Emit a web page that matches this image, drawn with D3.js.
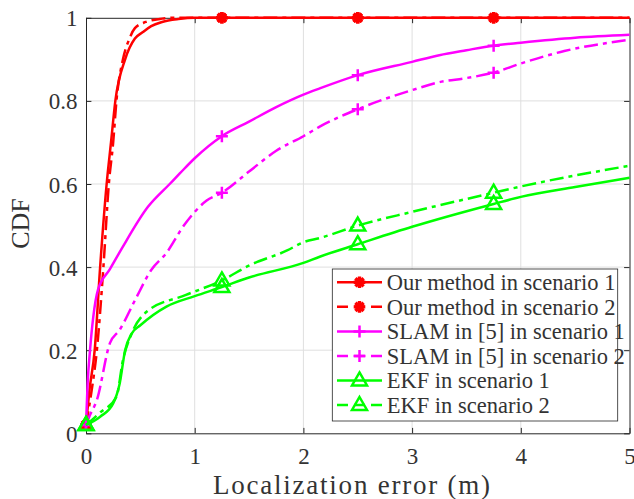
<!DOCTYPE html>
<html>
<head>
<meta charset="utf-8">
<script src="https://cdn.jsdelivr.net/npm/d3@7"></script>
<style>
  body { margin: 0; background: #fff; }
  svg text { font-family: "Liberation Serif" !important; }
</style>
</head>
<body>
<script>
// data
const xTicks = [0, 1, 2, 3, 4, 5];
const yTicks = [0, 0.2, 0.4, 0.6, 0.8, 1];
const markerX = [0, 1.25, 2.5, 3.75];

const ours1X = [0, 0.03, 0.08, 0.13, 0.19, 0.23, 0.27, 0.36, 0.45, 0.52, 0.6, 0.7, 0.85, 1, 1.25, 2.5, 3.75, 5];
const ours1Y = [0.02, 0.1, 0.2, 0.4, 0.6, 0.7, 0.8, 0.9, 0.95, 0.965, 0.98, 0.99, 0.997, 1, 1, 1, 1, 1];
const ours2X = [0, 0.05, 0.1, 0.16, 0.21, 0.25, 0.28, 0.34, 0.4, 0.45, 0.55, 0.7, 0.8, 1.25, 2.5, 3.75, 5];
const ours2Y = [0.02, 0.1, 0.2, 0.4, 0.6, 0.7, 0.8, 0.9, 0.95, 0.975, 0.99, 0.998, 1, 1, 1, 1, 1];

const slam1X = [0, 0.015, 0.037, 0.067, 0.11, 0.22, 0.33, 0.57, 0.77, 0.865, 1, 1.25, 1.5, 1.75, 2, 2.15, 2.5, 3, 3.25, 3.5, 3.75, 4, 4.5, 5];
const slam1Y = [0.02, 0.12, 0.2, 0.28, 0.345, 0.395, 0.445, 0.545, 0.6, 0.626, 0.662, 0.715, 0.75, 0.785, 0.815, 0.83, 0.862, 0.894, 0.91, 0.922, 0.933, 0.94, 0.952, 0.959];
const slam2X = [0, 0.03, 0.1, 0.22, 0.31, 0.45, 0.6, 0.74, 0.9, 1.11, 1.25, 1.5, 1.75, 2, 2.15, 2.5, 3, 3.25, 3.5, 3.75, 4, 4.4, 5];
const slam2Y = [0.02, 0.04, 0.08, 0.217, 0.249, 0.32, 0.393, 0.434, 0.5, 0.56, 0.579, 0.63, 0.68, 0.715, 0.738, 0.78, 0.826, 0.845, 0.855, 0.868, 0.89, 0.92, 0.947];

const ekf1X = [0, 0.13, 0.25, 0.31, 0.36, 0.42, 0.5, 0.74, 1, 1.25, 1.5, 2, 2.15, 2.5, 3, 3.75, 4, 4.5, 5];
const ekf1Y = [0.02, 0.04, 0.072, 0.12, 0.2, 0.24, 0.26, 0.305, 0.33, 0.352, 0.375, 0.41, 0.425, 0.455, 0.497, 0.552, 0.569, 0.593, 0.615];
const ekf2X = [0, 0.13, 0.28, 0.34, 0.42, 0.56, 0.92, 1.25, 1.51, 1.85, 2, 2.15, 2.5, 3, 3.75, 4, 5];
const ekf2Y = [0.02, 0.05, 0.088, 0.176, 0.24, 0.293, 0.333, 0.368, 0.405, 0.44, 0.46, 0.47, 0.5, 0.533, 0.579, 0.594, 0.644];

const labels = ["Our method in scenario 1", "Our method in scenario 2", "SLAM in [5] in scenario 1",
  "SLAM in [5] in scenario 2", "EKF in scenario 1", "EKF in scenario 2"];

const DASHDOT = "14,5,4,5";
const series = [
  { xs: ours1X, ys: ours1Y, color: "#ff0000", dash: null, marker: "star" },
  { xs: ours2X, ys: ours2Y, color: "#ff0000", dash: DASHDOT, marker: "star" },
  { xs: slam1X, ys: slam1Y, color: "#ff00ff", dash: null, marker: "plus" },
  { xs: slam2X, ys: slam2Y, color: "#ff00ff", dash: DASHDOT, marker: "plus" },
  { xs: ekf1X, ys: ekf1Y, color: "#00ff00", dash: null, marker: "tri" },
  { xs: ekf2X, ys: ekf2Y, color: "#00ff00", dash: DASHDOT, marker: "tri" }
];

const TEXT = "#333";
const width = 634, height = 499;
const margin = { left: 86, top: 17.8, right: 4.5, bottom: 65.7 };
const w = width - margin.left - margin.right;
const h = height - margin.top - margin.bottom;

const svg = d3.select("body").append("svg")
  .attr("width", width)
  .attr("height", height);

const g = svg.append("g").attr("transform", `translate(${margin.left},${margin.top})`);

const x = d3.scaleLinear().domain([0, 5]).range([0, w]);
const y = d3.scaleLinear().domain([0, 1]).range([h, 0]);

// grid
g.append("g").selectAll("line").data(xTicks.slice(1, -1)).enter().append("line")
  .attr("x1", d => x(d)).attr("x2", d => x(d)).attr("y1", 0).attr("y2", h)
  .attr("stroke", "#dfdfdf").attr("stroke-width", 1);
g.append("g").selectAll("line").data(yTicks.slice(1, -1)).enter().append("line")
  .attr("y1", d => y(d)).attr("y2", d => y(d)).attr("x1", 0).attr("x2", w)
  .attr("stroke", "#dfdfdf").attr("stroke-width", 1);

// axes (ticks pointing inward, box on)
const TICK = 5.4;
function styleAxis(sel) {
  sel.attr("font-family", null).attr("font-size", null);
  sel.select(".domain").attr("stroke", "#262626");
  sel.selectAll(".tick line").attr("stroke", "#262626");
  sel.selectAll("text").style("font-size", "23px").attr("fill", TEXT);
}
const xAxis = g.append("g").attr("transform", `translate(0,${h})`)
  .call(d3.axisBottom(x).tickValues(xTicks).tickSize(-TICK).tickSizeOuter(0).tickPadding(0).tickFormat(d3.format("d")));
xAxis.selectAll("text").attr("y", 23).attr("dy", "0.35em");
styleAxis(xAxis);
const xTop = g.append("g")
  .call(d3.axisTop(x).tickValues(xTicks).tickSize(-TICK).tickSizeOuter(0).tickFormat(""));
styleAxis(xTop);

const yAxis = g.append("g")
  .call(d3.axisLeft(y).tickValues(yTicks).tickSize(-TICK).tickSizeOuter(0).tickFormat(d3.format("")));
yAxis.selectAll("text").attr("x", -8.5).attr("dy", "0.35em");
styleAxis(yAxis);
const yRight = g.append("g").attr("transform", `translate(${w},0)`)
  .call(d3.axisRight(y).tickValues(yTicks).tickSize(-TICK).tickSizeOuter(0).tickFormat(""));
styleAxis(yRight);

// markers
function markerPath(type) {
  if (type === "star") {
    const r = 5.8, d = r * 0.707;
    return `M${-r},0L${r},0M0,${-r}L0,${r}M${-d},${-d}L${d},${d}M${-d},${d}L${d},${-d}`;
  }
  if (type === "plus") {
    const r = 6;
    return `M${-r},0L${r},0M0,${-r}L0,${r}`;
  }
  return "M0,-8L7.5,5L-7.5,5Z";
}

const line = d3.line().x(d => x(d[0])).y(d => y(d[1])).curve(d3.curveMonotoneX);

const plot = g.append("g");
series.forEach(s => {
  const pts = s.xs.map((v, i) => [v, s.ys[i]]);
  plot.append("path").datum(pts)
    .attr("d", line)
    .attr("fill", "none")
    .attr("stroke", s.color)
    .attr("stroke-width", 2.5)
    .attr("stroke-dasharray", s.dash);
  plot.append("g").selectAll("path")
    .data(pts.filter(p => markerX.includes(p[0])))
    .enter().append("path")
    .attr("transform", p => `translate(${x(p[0])},${y(p[1])})`)
    .attr("d", markerPath(s.marker))
    .attr("fill", "none")
    .attr("stroke", s.color)
    .attr("stroke-width", s.marker === "star" ? 3.4 : 2.5);
});

// legend
const lg = svg.append("g").attr("transform", "translate(332.3,269)");
lg.append("rect").attr("width", 285.4).attr("height", 152)
  .attr("fill", "#fff").attr("stroke", "#262626").attr("stroke-width", 0.8);
const rowY = d3.scaleLinear().domain([0, 5]).range([13.3, 136]);
series.forEach((s, i) => {
  const row = lg.append("g").attr("transform", `translate(0,${rowY(i)})`);
  row.append("line").attr("x1", 4.7).attr("x2", 49.7)
    .attr("stroke", s.color).attr("stroke-width", 2.5)
    .attr("stroke-dasharray", s.dash ? "11,6,0,0" : null);
  row.append("path").attr("transform", "translate(27.2,0)")
    .attr("d", markerPath(s.marker)).attr("fill", "none")
    .attr("stroke", s.color).attr("stroke-width", s.marker === "star" ? 3.4 : 2.5);
  row.append("text").attr("x", 54.4).attr("dy", "0.35em")
    .style("font-size", "22.5px").attr("fill", TEXT)
    .text(labels[i]);
});

// axis titles
svg.append("text").attr("x", 351.5).attr("y", 494)
  .attr("text-anchor", "middle")
  .attr("textLength", 277).attr("lengthAdjust", "spacing")
  .style("font-size", "27px").attr("fill", TEXT)
  .text("Localization error (m)");
svg.append("text").attr("transform", "translate(29,223.5) rotate(-90)")
  .attr("text-anchor", "middle")
  .style("font-size", "26px").attr("fill", TEXT)
  .text("CDF");
</script>
</body>
</html>
